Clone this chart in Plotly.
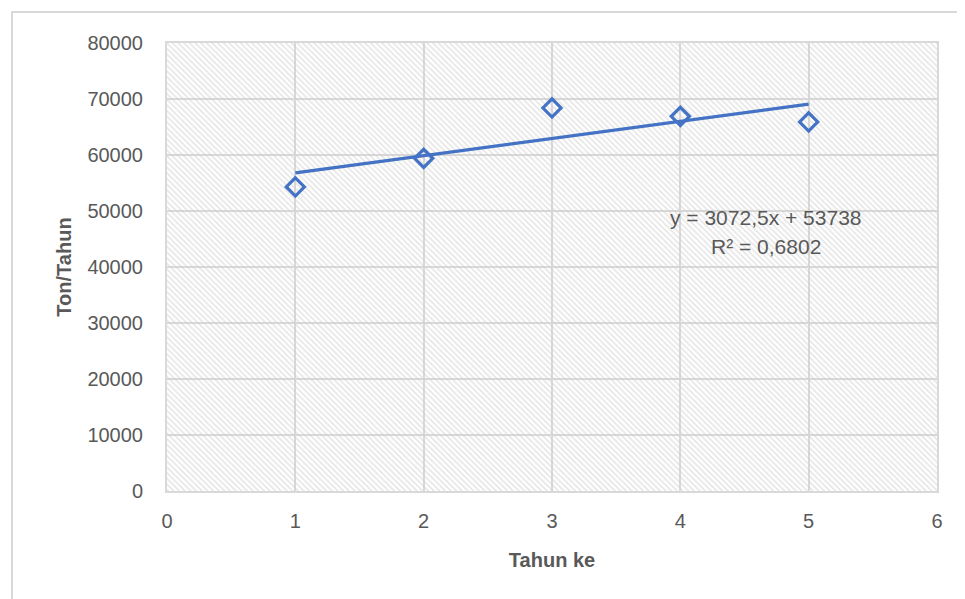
import plotly.graph_objects as go

# Data
tahun = [1, 2, 3, 4, 5]
produksi = [54300, 59400, 68400, 66900, 65900]
slope = 3072.5
intercept = 53738
eq_text = "y = 3072,5x + 53738"
r2_text = "R² = 0,6802"
x_range = [0, 6]
y_range = [0, 80000]
x_ticks = [0, 1, 2, 3, 4, 5, 6]
y_ticks = [0, 10000, 20000, 30000, 40000, 50000, 60000, 70000, 80000]

blue = "#4472C4"
grid = "#d9d9d9"
txt = "#595959"
font_family = "Liberation Sans"

trend_x = [tahun[0], tahun[-1]]
trend_y = [slope * x + intercept for x in trend_x]

W, H = 957, 591
L, R, T, B = 159, 28, 35, 108
pw = W - L - R
ph = H - T - B

fig = go.Figure()

# hatched plot-area background
fig.add_trace(go.Scatter(
    x=[x_range[0], x_range[1], x_range[1], x_range[0], x_range[0]],
    y=[y_range[0], y_range[0], y_range[1], y_range[1], y_range[0]],
    mode="lines", line=dict(width=0), fill="toself",
    fillcolor="rgba(0,0,0,0)",
    fillpattern=dict(shape="\\", fgcolor="#cccccc", bgcolor="rgba(0,0,0,0)",
                     size=4, solidity=0.4),
    hoverinfo="skip", showlegend=False,
))

fig.add_trace(go.Scatter(
    x=trend_x, y=trend_y, mode="lines",
    line=dict(color=blue, width=3.2), showlegend=False,
))

fig.add_trace(go.Scatter(
    x=tahun, y=produksi, mode="markers",
    marker=dict(symbol="diamond-open", size=14, color=blue, line=dict(width=3.2, color=blue)),
    showlegend=False,
))

fig.add_annotation(x=4.667, y=48929, xref="x", yref="y", text=eq_text, showarrow=False,
                   font=dict(family=font_family, size=21, color=txt), xanchor="center", yanchor="middle")
fig.add_annotation(x=4.667, y=43750, xref="x", yref="y", text=r2_text, showarrow=False,
                   font=dict(family=font_family, size=21, color=txt), xanchor="center", yanchor="middle")

# outer chart border
fig.add_shape(type="rect", xref="paper", yref="paper",
              x0=(4 - L) / pw, x1=2, y0=-2, y1=(H - B - 4) / ph,
              line=dict(color=grid, width=2), fillcolor="rgba(0,0,0,0)", layer="below")

fig.update_layout(
    width=W, height=H,
    margin=dict(l=L, r=R, t=T, b=B),
    paper_bgcolor="white", plot_bgcolor="white",
    font=dict(family=font_family, size=20, color=txt),
    xaxis=dict(range=x_range, tickvals=x_ticks, showgrid=True, gridcolor=grid, gridwidth=2,
               zeroline=False, showline=True, linecolor=grid, linewidth=2, mirror=True,
               ticks="", ticklabelstandoff=11, tickformat="d",
               tickfont=dict(family=font_family, size=20, color=txt),
               title=dict(text="<b>Tahun ke</b>", standoff=22,
                          font=dict(family=font_family, size=20, color=txt))),
    yaxis=dict(range=y_range, tickvals=y_ticks, showgrid=True, gridcolor=grid, gridwidth=2,
               zeroline=False, showline=True, linecolor=grid, linewidth=2, mirror=True,
               ticks="", ticklabelstandoff=18, tickformat="d",
               tickfont=dict(family=font_family, size=20, color=txt),
               title=dict(text="<b>Ton/Tahun</b>", standoff=10,
                          font=dict(family=font_family, size=20, color=txt))),
)

fig.write_html("out.html")
